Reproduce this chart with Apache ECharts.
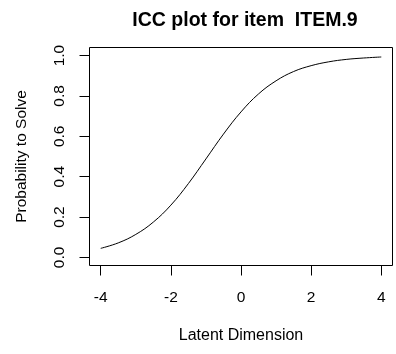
<!DOCTYPE html>
<html>
<head>
<meta charset="utf-8">
<script src="https://cdn.jsdelivr.net/npm/echarts@6/dist/echarts.min.js"></script>
<style>
  html, body { margin: 0; padding: 0; background: #fff; }
  #chart { width: 396px; height: 354px; }
</style>
</head>
<body>
<div id="chart"></div>
<script>
// Latent trait values (theta) and the item's probability of a correct response
const theta = [-4, -3.5, -3, -2.5, -2, -1.5, -1, -0.5, 0, 0.5, 1, 1.5, 2, 2.5, 3, 3.5, 4];
const probSolve = [0.045, 0.072, 0.114, 0.175, 0.259, 0.366, 0.488, 0.611, 0.721,
                   0.810, 0.875, 0.921, 0.950, 0.969, 0.981, 0.988, 0.993];

const xTicks = [-4, -2, 0, 2, 4];
const yTicks = [0, 0.2, 0.4, 0.6, 0.8, 1.0];

const chartTitle = 'ICC plot for item  ITEM.9';
const xTitle = 'Latent Dimension';
const yTitle = 'Probability to Solve';

const FONT = '"Liberation Sans", Arial, sans-serif';

const chart = echarts.init(document.getElementById('chart'), null, { renderer: 'canvas' });

chart.setOption({
  animation: false,
  backgroundColor: '#fff',
  title: {
    text: chartTitle,
    left: 240,
    top: 6,
    textAlign: 'center',
    textStyle: { fontFamily: FONT, fontSize: 19.5, fontWeight: 'bold', color: '#000' }
  },
  grid: {
    left: 89.5,
    right: 3.5,
    top: 47.5,
    bottom: 88.5,
    show: true,
    borderColor: '#000',
    borderWidth: 1,
    backgroundColor: 'transparent'
  },
  xAxis: {
    type: 'value',
    min: -4.32,
    max: 4.32,
    name: xTitle,
    nameLocation: 'middle',
    nameGap: 62,
    nameTextStyle: { fontFamily: FONT, fontSize: 16, color: '#000' },
    axisLine: { show: false, onZero: false },
    splitLine: { show: false },
    axisTick: {
      show: true,
      length: 10,
      customValues: xTicks,
      lineStyle: { color: '#000', width: 1 }
    },
    axisLabel: {
      customValues: xTicks,
      margin: 24,
      fontFamily: FONT,
      fontSize: 15.5,
      color: '#000',
      formatter: v => String(v)
    }
  },
  yAxis: {
    type: 'value',
    min: -0.04,
    max: 1.04,
    name: yTitle,
    nameLocation: 'middle',
    nameGap: 60,
    nameRotate: 90,
    nameTextStyle: { fontFamily: FONT, fontSize: 15.5, color: '#000' },
    axisLine: { show: false, onZero: false },
    splitLine: { show: false },
    axisTick: {
      show: true,
      length: 10,
      customValues: yTicks,
      lineStyle: { color: '#000', width: 1 }
    },
    axisLabel: {
      customValues: yTicks,
      rotate: 90,
      margin: 22,
      fontFamily: FONT,
      fontSize: 15.5,
      color: '#000',
      formatter: v => v.toFixed(1)
    }
  },
  series: [{
    type: 'line',
    data: theta.map((t, i) => [t, probSolve[i]]),
    smooth: 0.4,
    showSymbol: false,
    lineStyle: { color: '#000', width: 1 }
  }]
});
</script>
</body>
</html>
